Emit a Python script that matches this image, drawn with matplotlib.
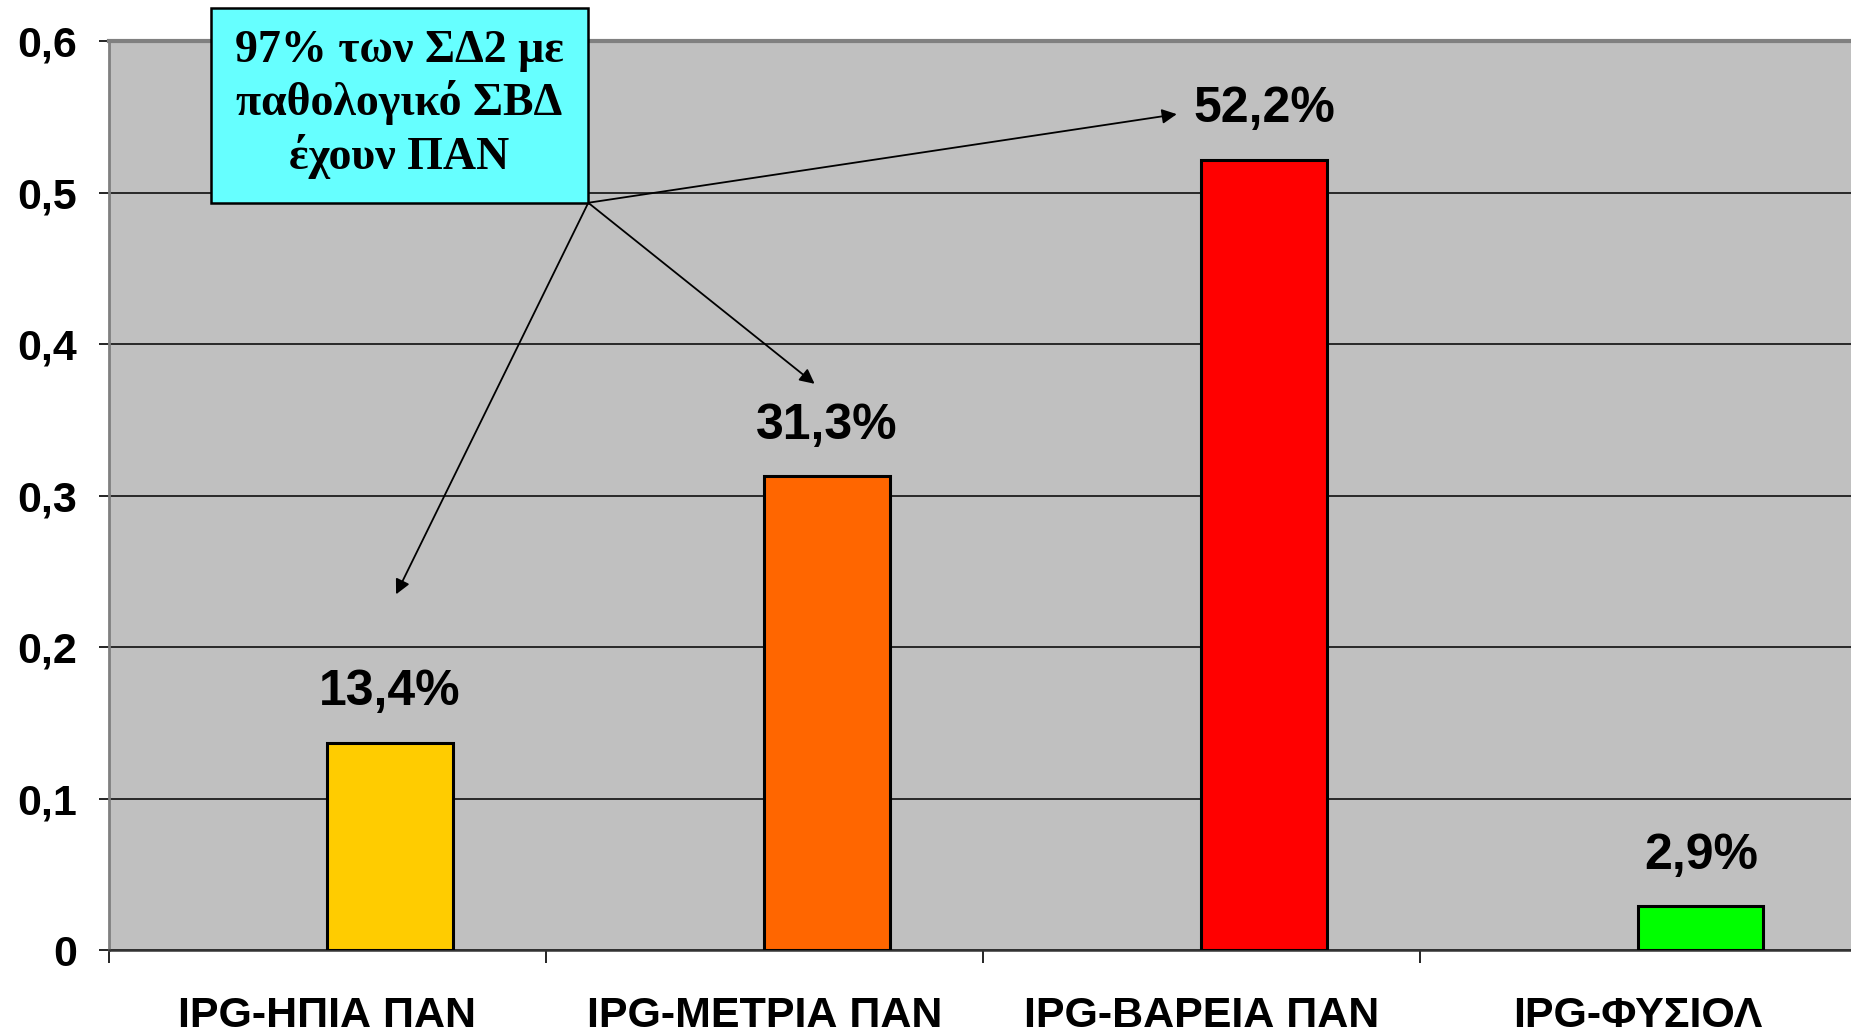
import matplotlib.pyplot as plt
from matplotlib.patches import Rectangle

# data
categories = ['IPG-ΗΠΙΑ ΠΑΝ', 'IPG-ΜΕΤΡΙΑ ΠΑΝ', 'IPG-ΒΑΡΕΙΑ ΠΑΝ', 'IPG-ΦΥΣΙΟΛ']
values = [0.137, 0.313, 0.522, 0.029]
labels = ['13,4%', '31,3%', '52,2%', '2,9%']
colors = ['#FFCC00', '#FF6600', '#FF0000', '#00FF00']
yticks = [0, 0.1, 0.2, 0.3, 0.4, 0.5, 0.6]
ytick_labels = ['0', '0,1', '0,2', '0,3', '0,4', '0,5', '0,6']
note = '97% των ΣΔ2 με\nπαθολογικό ΣΒΔ\nέχουν ΠΑΝ'
# arrow targets (category position, value)
arrow_targets = [(0.157, 0.235), (1.115, 0.374), (1.944, 0.552)]
arrow_start = (0.597, 0.4935)

plt.rcParams['font.family'] = ['Liberation Sans', 'DejaVu Sans']

fig = plt.figure(figsize=(18.51, 10.36), dpi=100)
ax = fig.add_axes([0.0589, 0.0827, 0.9441, 0.8773])
ax.set_facecolor('#C0C0C0')

bar_w = 0.287
x = list(range(len(categories)))
bars = ax.bar(x, values, width=bar_w, align='edge', color=colors,
              edgecolor='black', linewidth=2.2, zorder=3)

for b, lab in zip(bars, labels):
    ax.annotate(lab, (b.get_x() + b.get_width() / 2, b.get_height()),
                xytext=(0, 27), textcoords='offset points', ha='center',
                va='baseline', fontsize=36, fontweight='bold', zorder=4)

ax.set_xlim(-0.5, 3.5)
ax.set_ylim(0, 0.6)
ax.set_yticks(yticks)
ax.set_yticklabels(ytick_labels)
ax.yaxis.grid(True, color='black', linewidth=1.1, zorder=1)
ax.set_axisbelow(True)

ax.set_xticks([-0.5, 0.5, 1.5, 2.5])
ax.set_xticklabels([])
ax.set_xticks(x, minor=True)
ax.set_xticklabels(categories, minor=True, fontsize=31, fontweight='bold')
ax.tick_params(axis='x', which='major', direction='out', length=9, width=1.2, color='black')
ax.tick_params(axis='x', which='minor', length=0, pad=33)
ax.tick_params(axis='y', direction='out', length=7, width=1.2, pad=16,
               labelsize=31)
for t in ax.get_yticklabels():
    t.set_fontweight('bold')

ax.spines['top'].set_color('#808080')
ax.spines['top'].set_linewidth(3)
ax.spines['left'].set_color('#808080')
ax.spines['left'].set_linewidth(2)
ax.spines['bottom'].set_color('#333333')
ax.spines['bottom'].set_linewidth(1.8)
ax.spines['right'].set_visible(False)

# note box
box = Rectangle((-0.267, 0.4935), 0.864, 0.1283, facecolor='#66FFFF',
                edgecolor='black', linewidth=1.8, clip_on=False, zorder=6)
ax.add_patch(box)
ax.text(0.165, 0.5585, note, ha='center', va='center', fontsize=33,
        fontweight='bold', family=['Liberation Serif', 'DejaVu Serif'],
        linespacing=1.25, zorder=7, clip_on=False)

for tx, ty in arrow_targets:
    ax.annotate('', xy=(tx, ty), xytext=arrow_start,
                arrowprops=dict(arrowstyle='-|>', mutation_scale=22, lw=1.3,
                                color='black', shrinkA=0, shrinkB=0),
                zorder=5)

fig.savefig('out.png', dpi=100)
